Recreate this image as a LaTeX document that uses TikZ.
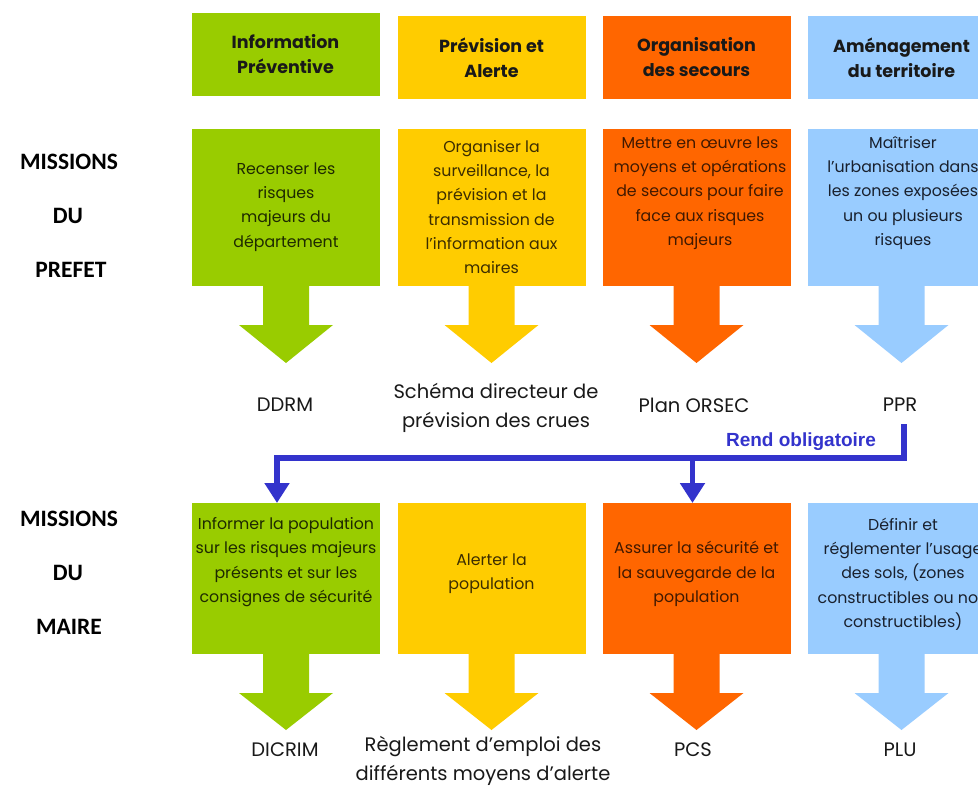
\documentclass[tikz,border=0pt]{standalone}
\usepackage{fontspec}
\setmainfont{Poppins}
\newfontfamily\calib{Carlito}
\newfontfamily\arialf{Liberation Sans}
\usetikzlibrary{arrows.meta}
\definecolor{cgreen}{RGB}{153,204,0}
\definecolor{cyellow}{RGB}{255,204,0}
\definecolor{corange}{RGB}{255,102,0}
\definecolor{cblue}{RGB}{153,204,255}
\definecolor{tgreen}{RGB}{30,42,0}
\definecolor{tyellow}{RGB}{60,45,0}
\definecolor{torange}{RGB}{65,25,0}
\definecolor{tblue}{RGB}{25,32,45}
\definecolor{cconn}{RGB}{51,51,204}
\newcommand{\blkarrow}[5]{%
  \fill[#1] (#2-23,#3-1) -- (#2-23,#4) -- (#2-47,#4) -- (#2,#5) -- (#2+47,#4) -- (#2+23,#4) -- (#2+23,#3-1) -- cycle;}
\tikzset{
  hdr/.style={inner sep=0pt, minimum width=188pt, minimum height=83pt, align=center,
    font=\bfseries\fontsize{17.5}{25}\selectfont, text=black!90},
  boxn/.style={inner sep=0pt, minimum width=188pt, anchor=north},
  btxt/.style={align=center, inner sep=0pt, font=\fontsize{15.8}{24.3}\selectfont},
  lbl/.style={align=center, inner sep=0pt, font=\fontsize{19.5}{29}\selectfont, text=black!90},
  miss/.style={inner sep=0pt, font=\calib\bfseries\fontsize{23.5}{23.5}\selectfont},
  conn/.style={draw=cconn, line width=5.5pt}
}
\begin{document}
\begin{tikzpicture}[x=1pt,y=-1pt]
\useasboundingbox (0,0) rectangle (978,789);
\clip (0,0) rectangle (978,789);
\fill[white] (0,0) rectangle (978,789);
% headers
\node[hdr, fill=cgreen]  (h1) at (285.5,54.5) {Information\\Préventive};
\node[hdr, fill=cyellow] (h2) at (491.5,57.5) {Prévision et\\Alerte};
\node[hdr, fill=corange] (h3) at (696.5,57.5) {Organisation\\des secours};
\node[hdr, fill=cblue]   (h4) at (901.5,57.5) {Aménagement\\du territoire};
% mission labels
\node[miss] (mp1) at (69,162) {MISSIONS};
\node[miss] (mp2) at (68,216) {DU};
\node[miss] (mp3) at (71,270) {PREFET};
\node[miss] (mm1) at (69,519) {MISSIONS};
\node[miss] (mm2) at (68,573) {DU};
\node[miss] (mm3) at (69,627) {MAIRE};
% row 1 arrows and boxes
\blkarrow{cgreen}{286}{286}{325}{363}
\blkarrow{cyellow}{491.5}{286}{325}{363}
\blkarrow{corange}{696.5}{286}{325}{363}
\blkarrow{cblue}{901.5}{286}{325}{363}
\node[boxn, fill=cgreen,  minimum height=157pt] (p1) at (286,129) {};
\node[boxn, fill=cyellow, minimum height=157pt] (p2) at (491.5,129) {};
\node[boxn, fill=corange, minimum height=157pt] (p3) at (696.5,129) {};
\node[boxn, fill=cblue,   minimum height=157pt] (p4) at (901.5,129) {};
\node[btxt, text=tgreen]  (tp1) at (286,207) {Recenser les\\risques\\majeurs du\\département};
\node[btxt, text=tyellow] (tp2) at (491.5,207) {Organiser la\\surveillance, la\\prévision et la\\transmission de\\l’information aux\\maires};
\node[btxt, text=torange] (tp3) at (700,193) {Mettre en œuvre les\\moyens et opérations\\de secours pour faire\\face aux risques\\majeurs};
\node[btxt, text=tblue]   (tp4) at (903,193) {Maîtriser\\l’urbanisation dans\\les zones exposées\\un ou plusieurs\\risques};
% row 1 labels
\node[lbl] (ddrm) at (285,405) {DDRM};
\node[lbl] (sdpc) at (496,408) {Schéma directeur de\\prévision des crues};
\node[lbl] (orsec) at (694,405) {Plan ORSEC};
\node[lbl] (ppr) at (900,405) {PPR};
% row 2 arrows and boxes
\blkarrow{cgreen}{286}{654}{693}{730}
\blkarrow{cyellow}{491.5}{654}{693}{730}
\blkarrow{corange}{696.5}{654}{693}{730}
\blkarrow{cblue}{901.5}{654}{693}{730}
\node[boxn, fill=cgreen,  minimum height=151pt] (m1) at (286,503) {};
\node[boxn, fill=cyellow, minimum height=151pt] (m2) at (491.5,503) {};
\node[boxn, fill=corange, minimum height=151pt] (m3) at (696.5,503) {};
\node[boxn, fill=cblue,   minimum height=151pt] (m4) at (901.5,503) {};
\node[btxt, text=tgreen]  (tm1) at (286,562) {Informer la population\\sur les risques majeurs\\présents et sur les\\consignes de sécurité};
\node[btxt, text=tyellow] (tm2) at (491.5,574) {Alerter la\\population};
\node[btxt, text=torange] (tm3) at (696.5,574) {Assurer la sécurité et\\la sauvegarde de la\\population};
\node[btxt, text=tblue]   (tm4) at (903,574) {Définir et\\réglementer l’usage\\des sols, (zones\\constructibles ou non\\constructibles)};
% row 2 labels
\node[lbl] (dicrim) at (285,750) {DICRIM};
\node[lbl] (regl) at (483,761) {Règlement d’emploi des\\différents moyens d’alerte};
\node[lbl] (pcs) at (693,750) {PCS};
\node[lbl] (plu) at (900,750) {PLU};
% connector
\coordinate (cs) at (904,424);
\coordinate (bend) at (904,458);
\draw[conn, -{Triangle[length=20pt,width=24pt]}] (cs) -- (bend) -| ([xshift=-9pt]m1.north);
\draw[conn, -{Triangle[length=20pt,width=24pt]}] ([xshift=-4pt]m3.north |- bend) -- ([xshift=-4pt]m3.north);
\node[text=cconn, inner sep=0pt, font=\arialf\bfseries\fontsize{19}{19}\selectfont] (rend) at (801,442) {Rend obligatoire};
\end{tikzpicture}
\end{document}
